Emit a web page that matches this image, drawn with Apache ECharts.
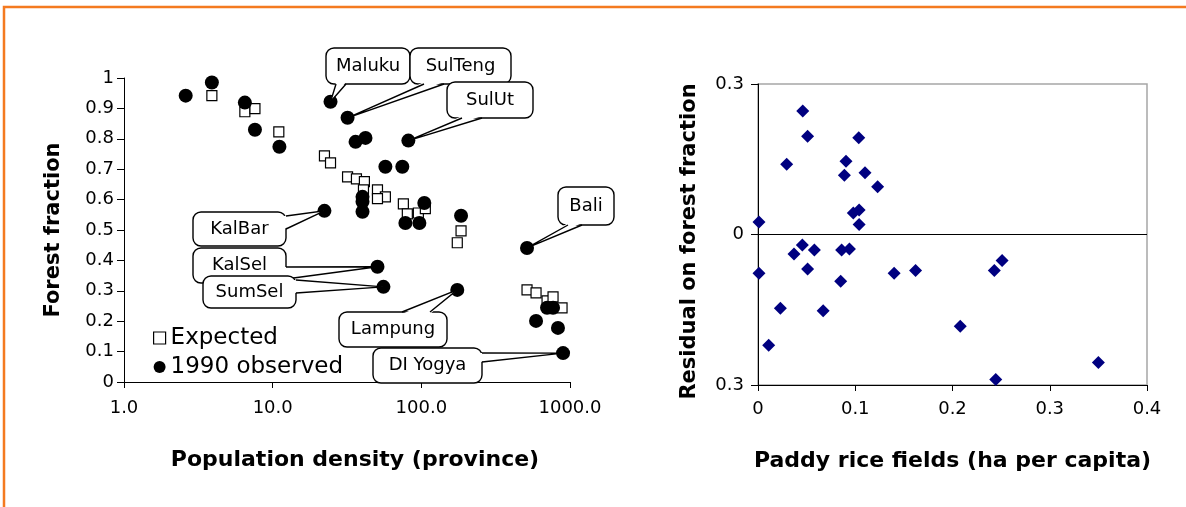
<!DOCTYPE html>
<html>
<head>
<meta charset="utf-8">
<script src="https://cdn.jsdelivr.net/npm/echarts@6/dist/echarts.min.js"></script>
<style>
html,body{margin:0;padding:0;background:#fff;}
#chart{width:1186px;height:507px;}
</style>
</head>
<body>
<div id="chart"></div>
<script>
// ---------- DATA ----------
// Left panel: expected forest fraction vs population density
const expectedDensity  = [3.9, 6.5, 7.6, 11.0, 22.3, 24.5, 31.9, 36.6, 41.4, 40.8, 50.7, 57.3, 50.7, 75.7, 80.5, 95.5, 106.4, 185, 174.5, 514, 591, 701, 769, 884];
const expectedFraction = [0.942, 0.889, 0.899, 0.823, 0.744, 0.721, 0.675, 0.668, 0.659, 0.632, 0.632, 0.609, 0.603, 0.586, 0.553, 0.556, 0.570, 0.497, 0.458, 0.303, 0.293, 0.267, 0.280, 0.244];

// Left panel: 1990 observed forest fraction vs population density
const observedDensity  = [2.6, 3.9, 6.5, 7.6, 11.1, 22.3, 24.5, 31.9, 36.1, 42.1, 81.8, 57.3, 74.5, 40.2, 40.2, 40.2, 104.7, 78.1, 97, 185, 514, 50.7, 55.6, 174.5, 591, 701, 769, 830, 898];
const observedFraction = [0.942, 0.985, 0.919, 0.830, 0.774, 0.563, 0.922, 0.869, 0.790, 0.803, 0.794, 0.708, 0.708, 0.609, 0.593, 0.560, 0.589, 0.523, 0.523, 0.547, 0.441, 0.379, 0.313, 0.303, 0.201, 0.244, 0.244, 0.178, 0.095];
const observedNames    = ['', '', '', '', '', 'KalBar', 'Maluku', 'SulTeng', '', '', 'SulUt', '', '', '', '', '', '', '', '', '', 'Bali', 'KalSel', 'SumSel', 'Lampung', '', '', '', '', 'DI Yogya'];

// Right panel: residual vs paddy rice fields
const riceFields = [0.046, 0.051, 0.0295, 0.1036, 0.0905, 0.0888, 0.110, 0.123, 0.001, 0.098, 0.104, 0.104, 0.037, 0.0456, 0.058, 0.086, 0.094, 0.001, 0.051, 0.085, 0.140, 0.162, 0.023, 0.067, 0.011, 0.208, 0.243, 0.251, 0.2445, 0.350];
const residuals  = [0.246, 0.196, 0.140, 0.193, 0.146, 0.118, 0.123, 0.095, 0.025, 0.043, 0.049, 0.020, -0.039, -0.021, -0.031, -0.031, -0.029, -0.077, -0.069, -0.093, -0.077, -0.072, -0.147, -0.152, -0.221, -0.183, -0.072, -0.052, -0.289, -0.255];

// Tick labels
const leftXTickLabels  = ['1.0', '10.0', '100.0', '1000.0'];
const leftYTickLabels  = ['0', '0.1', '0.2', '0.3', '0.4', '0.5', '0.6', '0.7', '0.8', '0.9', '1'];
const rightXTickLabels = ['0', '0.1', '0.2', '0.3', '0.4'];
const rightYTickLabels = ['0.3', '0', '0.3'];

const seriesNames = ['Expected', '1990 observed'];

// ---------- LAYOUT (callout boxes, pixels) ----------
const calloutLayout = {
  'Maluku':  {box: [326, 48, 84, 36],  side: 'bottom', base: [[336, 84], [346, 84]]},
  'SulTeng': {box: [410, 48, 101, 36], side: 'bottom', base: [[424, 84], [444, 84]]},
  'SulUt':   {box: [447, 82, 86, 36],  side: 'bottom', base: [[462, 118], [482, 118]]},
  'Bali':    {box: [558, 187, 56, 38], side: 'bottom', base: [[568, 225], [582, 225]]},
  'KalBar':  {box: [193, 212, 93, 34], side: 'right',  base: [[286, 216], [286, 229]]},
  'KalSel':  {box: [193, 248, 93, 35], side: 'right',  base: [[286, 267], [286, 279]]},
  'SumSel':  {box: [203, 276, 93, 32], side: 'right',  base: [[296, 280], [296, 293]]},
  'Lampung': {box: [339, 312, 108, 35], side: 'top',   base: [[402, 312], [430, 312]]},
  'DI Yogya':{box: [373, 348, 109, 35], side: 'right', base: [[482, 353], [482, 362]]}
};
const calloutOrder = ['Maluku', 'SulTeng', 'SulUt', 'Bali', 'KalBar', 'KalSel', 'SumSel', 'Lampung', 'DI Yogya'];

const FONT = 'DejaVu Sans';

const chart = echarts.init(document.getElementById('chart'), null, {renderer: 'canvas'});

const expData = expectedDensity.map((d, i) => [d, expectedFraction[i]]);
const obsData = observedDensity.map((d, i) => [d, observedFraction[i]]);
const resData = riceFields.map((d, i) => [d, residuals[i]]);

const labelStyle = {fontFamily: FONT, fontSize: 18, color: '#000'};
const nameStyle = {fontFamily: FONT, fontSize: 22, fontWeight: 'bold', color: '#000'};

const option = {
  animation: false,
  backgroundColor: '#fff',
  grid: [
    {left: 124, top: 78, width: 446, height: 304, containLabel: false},
    {left: 758, top: 84, width: 389, height: 301, containLabel: false, show: true, borderColor: '#a6a6a6', borderWidth: 1.5, backgroundColor: 'transparent'}
  ],
  legend: {
    data: [
      {name: seriesNames[0], icon: 'rect', itemStyle: {color: '#fff', borderColor: '#000', borderWidth: 1.2}},
      {name: seriesNames[1], icon: 'circle', itemStyle: {color: '#000', opacity: 1}}
    ],
    orient: 'vertical',
    left: 148, top: 321,
    itemWidth: 12, itemHeight: 12, itemGap: 5,
    textStyle: {fontFamily: FONT, fontSize: 23, color: '#000', lineHeight: 24},
    selectedMode: false
  },
  xAxis: [
    {
      gridIndex: 0, type: 'log', logBase: 10, min: 1, max: 1000,
      axisLine: {lineStyle: {color: '#000', width: 1}},
      axisTick: {show: true, length: 6, lineStyle: {color: '#000'}},
      minorTick: {show: false}, splitLine: {show: false},
      axisLabel: Object.assign({margin: 17, formatter: v => leftXTickLabels[Math.round(Math.log10(v))]}, labelStyle),
      name: 'Population density (province)', nameLocation: 'middle', nameGap: 67,
      nameTextStyle: Object.assign({}, nameStyle, {padding: [0, 0, 0, 16]})
    },
    {
      gridIndex: 1, type: 'value', min: 0, max: 0.4, interval: 0.1,
      axisLine: {onZero: false, lineStyle: {color: '#000', width: 1}},
      axisTick: {show: true, length: 6, lineStyle: {color: '#000'}},
      splitLine: {show: false},
      axisLabel: Object.assign({margin: 15, formatter: v => rightXTickLabels[Math.round(v * 10)]}, labelStyle),
      name: 'Paddy rice fields (ha per capita)', nameLocation: 'middle', nameGap: 65,
      nameTextStyle: nameStyle
    }
  ],
  yAxis: [
    {
      gridIndex: 0, type: 'value', min: 0, max: 1, interval: 0.1,
      axisLine: {show: true, lineStyle: {color: '#000', width: 1}},
      axisTick: {show: true, length: 7, lineStyle: {color: '#000'}},
      splitLine: {show: false},
      axisLabel: Object.assign({margin: 10, formatter: v => leftYTickLabels[Math.round(v * 10)]}, labelStyle),
      name: 'Forest fraction', nameLocation: 'middle', nameGap: 60,
      nameTextStyle: Object.assign({}, nameStyle, {fontSize: 21})
    },
    {
      gridIndex: 1, type: 'value', min: -0.3, max: 0.3, interval: 0.3,
      axisLine: {show: true, onZero: false, lineStyle: {color: '#000', width: 1}},
      axisTick: {show: true, length: 7, lineStyle: {color: '#000'}},
      splitLine: {show: false},
      axisLabel: Object.assign({margin: 14, formatter: v => rightYTickLabels[Math.round(v / 0.3) + 1]}, labelStyle),
      name: 'Residual on forest fraction', nameLocation: 'middle', nameGap: 58,
      nameTextStyle: Object.assign({}, nameStyle, {fontSize: 21, padding: [0, 14, 0, 0]})
    }
  ],
  series: [
    {
      name: seriesNames[0], type: 'scatter', xAxisIndex: 0, yAxisIndex: 0,
      data: expData, symbol: 'rect', symbolSize: 10,
      itemStyle: {color: '#fff', borderColor: '#000', borderWidth: 1.2, opacity: 1}
    },
    {
      name: seriesNames[1], type: 'scatter', xAxisIndex: 0, yAxisIndex: 0,
      data: obsData, symbol: 'circle', symbolSize: 14,
      itemStyle: {color: '#000', opacity: 1}
    },
    {
      name: 'Residual', type: 'scatter', xAxisIndex: 1, yAxisIndex: 1,
      data: resData, symbol: 'diamond', symbolSize: 13,
      itemStyle: {color: '#000080', opacity: 1},
      markLine: {
        silent: true, symbol: 'none', animation: false,
        label: {show: false},
        lineStyle: {color: '#000', width: 1, type: 'solid'},
        data: [{yAxis: 0}]
      }
    }
  ]
};

chart.setOption(option);

// ---------- Callouts and frame ----------
function buildGraphics() {
  const els = [];
  // orange frame (top and left)
  els.push({
    type: 'polyline', z: 1,
    shape: {points: [[4, 507], [4, 7], [1186, 7]]},
    style: {stroke: '#f47a20', lineWidth: 2.5, fill: null}
  });
  calloutOrder.forEach((name, k) => {
    const idx = observedNames.indexOf(name);
    if (idx < 0) return;
    const tip = chart.convertToPixel({gridIndex: 0}, [observedDensity[idx], observedFraction[idx]]);
    const L = calloutLayout[name];
    const [bx, by, bw, bh] = L.box;
    const inward = L.side === 'bottom' ? [0, -2] : L.side === 'top' ? [0, 2] : L.side === 'right' ? [-2, 0] : [2, 0];
    const b1 = L.base[0], b2 = L.base[1];
    const z = 100 + k * 4;
    els.push({
      type: 'rect', z: z,
      shape: {x: bx, y: by, width: bw, height: bh, r: 8},
      style: {fill: '#fff', stroke: '#000', lineWidth: 1.4}
    });
    els.push({
      type: 'polygon', z: z + 1,
      shape: {points: [[b1[0] + inward[0], b1[1] + inward[1]], [b2[0] + inward[0], b2[1] + inward[1]], tip]},
      style: {fill: '#fff', stroke: null}
    });
    els.push({
      type: 'polyline', z: z + 2,
      shape: {points: [b1, tip, b2]},
      style: {stroke: '#000', lineWidth: 1.4, fill: null}
    });
    els.push({
      type: 'text', z: z + 3,
      x: bx + bw / 2, y: by + bh / 2,
      style: {text: name, font: '18px "DejaVu Sans"', fill: '#000', align: 'center', verticalAlign: 'middle', textAlign: 'center', textVerticalAlign: 'middle'}
    });
  });
  return els;
}

chart.setOption({graphic: buildGraphics()});
</script>
</body>
</html>
